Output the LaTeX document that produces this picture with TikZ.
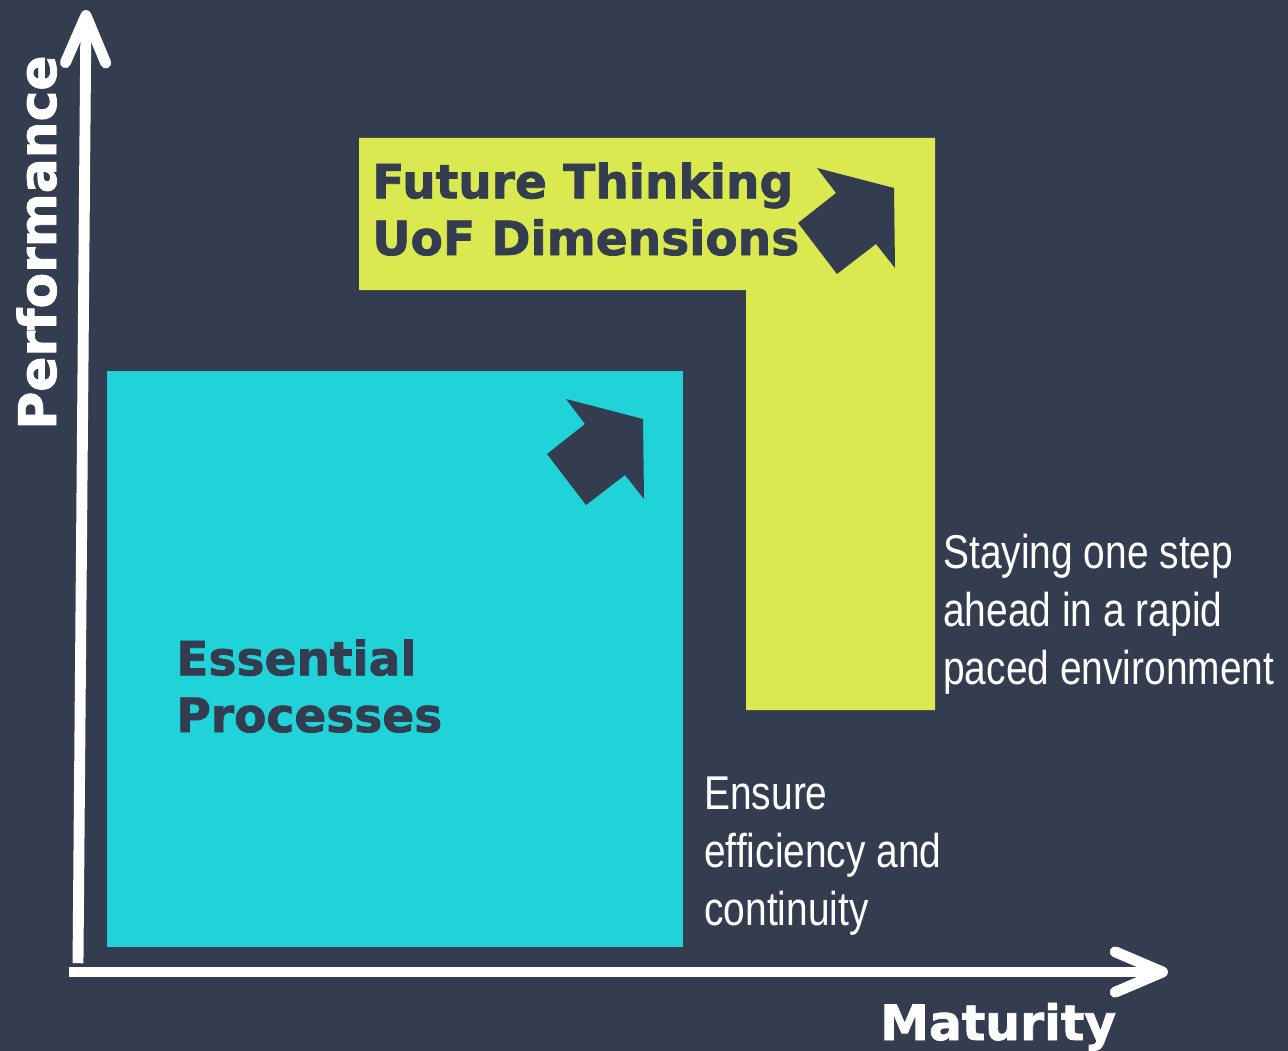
\documentclass[tikz,border=0pt]{standalone}
\usepackage{fontspec}
\setmainfont{Liberation Sans}
\newfontfamily\heavyfont{DejaVu Sans}[BoldFeatures={FakeBold=1.6}]
\newfontfamily\narrowfont{Liberation Sans}[FakeStretch=0.82]
\usetikzlibrary{arrows.meta}
\definecolor{slate}{RGB}{52,61,80}
\definecolor{aqua}{RGB}{31,211,217}
\definecolor{lime}{RGB}{217,233,79}
\begin{document}
\begin{tikzpicture}[x=0.02cm,y=-0.02cm,
	axis/.style={draw=white,line width=6.2pt,
		-{Straight Barb[length=27pt,width=23pt,round]}},
	title/.style={anchor=base west,inner sep=0,align=left,text=slate,
		font=\heavyfont\bfseries\fontsize{26.8}{32.3}\selectfont},
	label/.style={anchor=base west,inner sep=0,text=white,
		font=\heavyfont\bfseries\fontsize{27.8}{32.3}\selectfont},
	note/.style={anchor=base west,inner sep=0,align=left,text=white,
		font=\narrowfont\fontsize{27}{33}\selectfont}]
\fill[slate] (0,0) rectangle (1288,1051);
% boxes
\fill[aqua] (107,371) rectangle (683,947);
\fill[lime] (359,138) -- (935,138) -- (935,710) -- (746,710) -- (746,290) -- (359,290) -- cycle;
% block arrows
\fill[slate] (566,399) -- (643,419) -- (644,499) -- (625,475) -- (586,505) -- (547,454) -- (585,424) -- cycle;
\fill[slate,shift={(251,-231)}] (566,399) -- (643,419) -- (644,499) -- (625,475) -- (586,505) -- (547,454) -- (585,424) -- cycle;
% axes
\coordinate (origin) at (78,972);
\coordinate (ytop) at (86,10);
\coordinate (xend) at (1168,972);
\draw[axis] ([yshift=5]origin) -- (ytop);
\draw[axis] ([xshift=-5]origin) -- (xend);
\node[title] (future) at (372,255) {Future Thinking\\UoF Dimensions};
\node[title] (essential) at (176,732) {Essential\\Processes};
\node[note] (staying) at (943,684) {Staying one step\\ahead in a rapid\\paced environment};
\node[note] (ensure) at (704,925) {Ensure\\efficiency and\\continuity};
\node[label] (maturity) at (880,1040) {Maturity};
\node[label,rotate=90,font=\heavyfont\bfseries\fontsize{29.5}{32}\selectfont] (performance) at (56,430) {Performance};
\end{tikzpicture}
\end{document}
